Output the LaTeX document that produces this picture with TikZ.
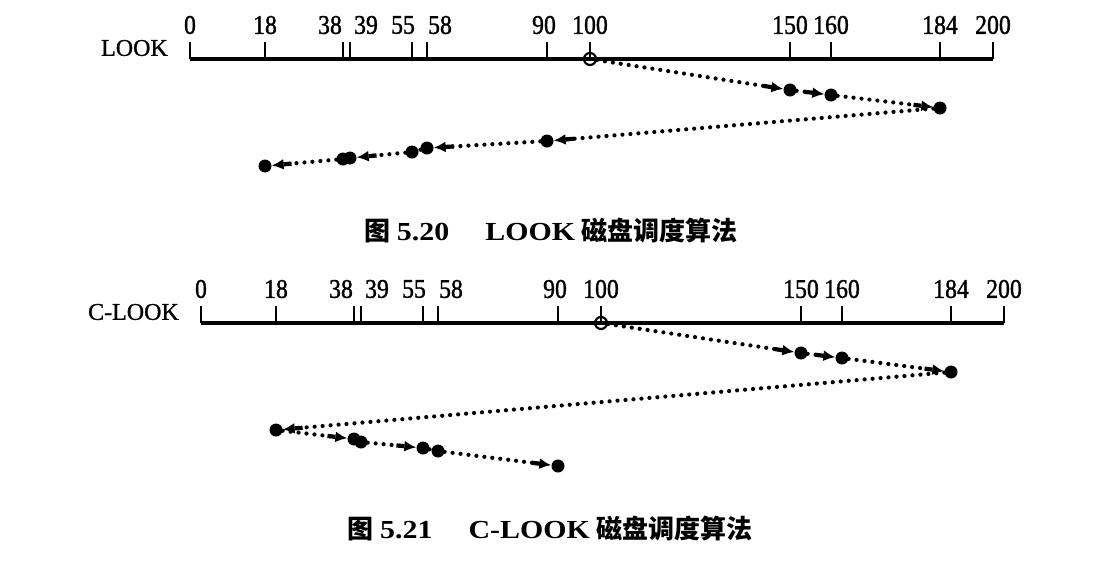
\documentclass[tikz,border=0pt]{standalone}
\usepackage{fontspec}
\setmainfont{Liberation Serif}
\newfontfamily\cjk{Noto Sans CJK SC}
\newfontfamily\lab[FakeBold=1.2,FakeStretch=0.88]{Liberation Serif}
\newfontfamily\alg[FakeBold=1]{Liberation Serif}
\newfontfamily\latcap[FakeStretch=1.15]{Liberation Serif}
\usetikzlibrary{arrows.meta}
\tikzset{
  eje/.style={line width=3.2pt},
  tic/.style={line width=2.2pt},
  et/.style={font=\lab\fontsize{27}{29}\selectfont, inner sep=0pt},
  nom/.style={font=\alg\fontsize{24}{26}\selectfont, inner sep=0pt, anchor=east},
  pto/.style={circle, fill, inner sep=0pt, minimum size=13pt},
  ini/.style={circle, draw, line width=2.2pt, inner sep=0pt, minimum size=12pt},
  flc/.style={line width=4.2pt, dash pattern=on 0pt off 8pt, line cap=round},
  fl/.style={flc, -{Rectangle[length=8pt,width=4.2pt]Latex[length=12pt,width=11pt]}},
  pie/.style={font=\fontsize{26}{28}\selectfont\bfseries, inner sep=0pt},
}
% #1 prefix, #2/#3 origin of track 0, #4 name of the algorithm
\newcommand{\eje}[4]{%
  \draw[eje] (#2,#3) -- ++(803,0);
  \foreach \v/\x/\dx in {0/0/0, 18/75/0, 38/153/-13, 39/160/16, 55/222/-9, 58/237/13,
      90/357/-3, 100/400/0, 150/600/0, 160/641/0, 184/750/0, 200/803/0}{
    \coordinate (#1\v) at ({#2+\x},#3);
    \draw[tic] (#1\v) -- ++(0,-17);
    \node[et] (#1l\v) at ({#2+\x+\dx},{#3-34}) {\v};
  }
  \node[nom] (#1nom) at ({#2-22},{#3-11}) {#4};
}

\begin{document}
\begin{tikzpicture}[x=1pt, y=-1pt]
  \useasboundingbox (0,0) rectangle (1108,566);

  \eje{u}{190}{59}{LOOK}
  \node[ini] (a100) at (u100) {};
  \path (u150) ++(0,31)  node[pto] (a150) {};
  \path (u160) ++(0,36)  node[pto] (a160) {};
  \path (u184) ++(0,49)  node[pto] (a184) {};
  \path (u90)  ++(0,82)  node[pto] (a90) {};
  \path (u58)  ++(0,89)  node[pto] (a58) {};
  \path (u55)  ++(0,93)  node[pto] (a55) {};
  \path (u39)  ++(0,99)  node[pto] (a39) {};
  \path (u38)  ++(0,100) node[pto] (a38) {};
  \path (u18)  ++(0,107) node[pto] (a18) {};
  \draw[fl] (a100) -- (a150);
  \draw[fl] (a150) -- (a160);
  \draw[fl] (a160) -- (a184);
  \draw[fl] (a184) -- (a90);
  \draw[fl] (a90) -- (a58);
  \draw[flc] (a58) -- (a55);
  \draw[fl] (a55) -- (a39);
  \draw[flc] (a39) -- (a38);
  \draw[fl] (a38) -- (a18);
  \node[pie] (pie1) at (551,230) {{\cjk 图} {\latcap 5.20}\hspace{36pt}{\latcap LOOK} {\cjk 磁盘调度算法}};

  \eje{d}{201}{323}{C-LOOK}
  \node[ini] (b100) at (d100) {};
  \path (d150) ++(0,30)  node[pto] (b150) {};
  \path (d160) ++(0,35)  node[pto] (b160) {};
  \path (d184) ++(0,49)  node[pto] (b184) {};
  \path (d18)  ++(0,107) node[pto] (b18) {};
  \path (d38)  ++(0,116) node[pto] (b38) {};
  \path (d39)  ++(0,119) node[pto] (b39) {};
  \path (d55)  ++(0,125) node[pto] (b55) {};
  \path (d58)  ++(0,128) node[pto] (b58) {};
  \path (d90)  ++(0,143) node[pto] (b90) {};
  \draw[fl] (b100) -- (b150);
  \draw[fl] (b150) -- (b160);
  \draw[fl] (b160) -- (b184);
  \draw[fl] (b184) -- (b18);
  \draw[fl] (b18) -- (b38);
  \draw[flc] (b38) -- (b39);
  \draw[fl] (b39) -- (b55);
  \draw[flc] (b55) -- (b58);
  \draw[fl] (b58) -- (b90);
  \node[pie] (pie2) at (550,528) {{\cjk 图} {\latcap 5.21}\hspace{36pt}{\latcap C-LOOK} {\cjk 磁盘调度算法}};
\end{tikzpicture}
\end{document}
